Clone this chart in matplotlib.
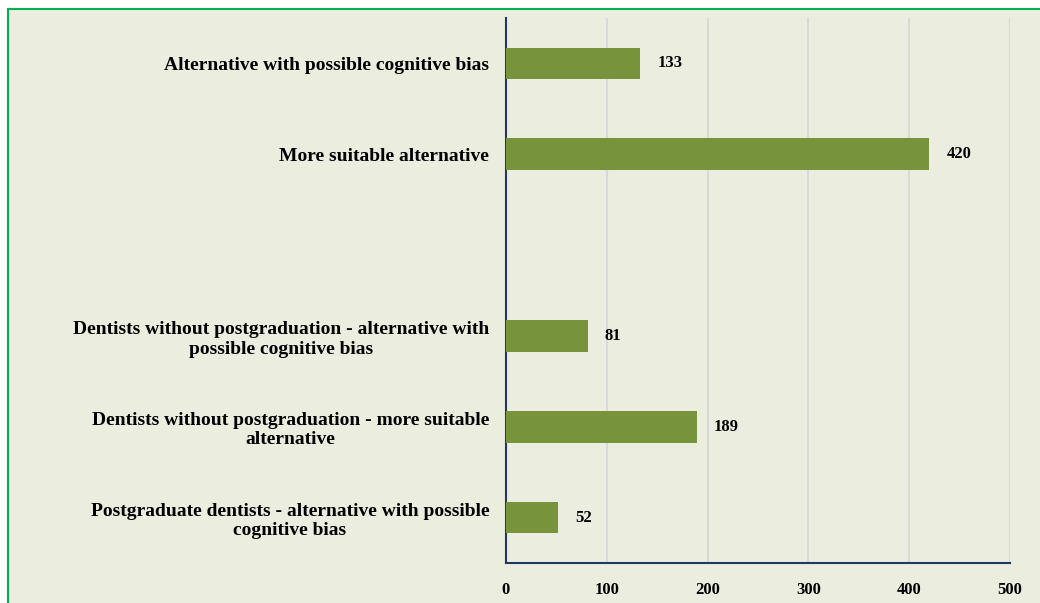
import matplotlib.pyplot as plt
from matplotlib.lines import Line2D

categories = [
    "Alternative with possible cognitive bias",
    "More suitable alternative",
    "",
    "Dentists without postgraduation - alternative with\npossible cognitive bias",
    "Dentists without postgraduation - more suitable\nalternative",
    "Postgraduate dentists - alternative with possible\ncognitive bias",
]
values = [133, 420, None, 81, 189, 52]
xticks = [0, 100, 200, 300, 400, 500]

bg = "#EBEEDF"
bar_color = "#77933C"
spine_color = "#1F3864"

plt.rcParams["font.family"] = ["Liberation Serif", "DejaVu Serif"]
plt.rcParams["font.weight"] = "bold"

fig = plt.figure(figsize=(10.4, 6.03), dpi=100)
fig.patch.set_facecolor("white")

# shaded panel with green frame
panel = plt.Rectangle((8 / 1040, 0), 1 - 8 / 1040, 1 - 9 / 603,
                      transform=fig.transFigure, facecolor=bg, edgecolor="none", zorder=-2)
fig.patches.append(panel)
fig.lines.append(Line2D([8 / 1040, 1], [1 - 9 / 603, 1 - 9 / 603], transform=fig.transFigure,
                        color="#00B050", lw=1.5))
fig.lines.append(Line2D([8 / 1040, 8 / 1040], [0, 1 - 9 / 603], transform=fig.transFigure,
                        color="#00B050", lw=1.5))

ax = fig.add_axes([506 / 1040, 40 / 603, 504 / 1040, 545 / 603])
ax.set_facecolor(bg)

ypos = list(range(len(categories)))
for y, v in zip(ypos, values):
    if v is None:
        continue
    ax.barh(y, v, height=0.35, color=bar_color, zorder=3)
    ax.text(v + 17, y, str(v), va="center", ha="left", fontsize=12, fontweight="bold", zorder=4)

ax.set_ylim(len(categories) - 0.5, -0.5)
ax.set_xlim(0, 500)
ax.set_yticks(ypos)
ax.set_yticklabels(categories, fontsize=14, fontweight="bold", ha="right",
                   multialignment="center", linespacing=1.2)
ax.tick_params(axis="y", length=0, pad=12)
ax.set_xticks(xticks)
ax.set_xticklabels([str(t) for t in xticks], fontsize=12, fontweight="bold")
ax.tick_params(axis="x", length=0, pad=14)

ax.grid(axis="x", color="#D9D9D9", lw=1.5, zorder=0)
ax.set_axisbelow(True)
for s in ["top", "right"]:
    ax.spines[s].set_visible(False)
for s in ["left", "bottom"]:
    ax.spines[s].set_color(spine_color)
    ax.spines[s].set_linewidth(1.5)

fig.savefig("out.png", dpi=100, facecolor=fig.get_facecolor())
